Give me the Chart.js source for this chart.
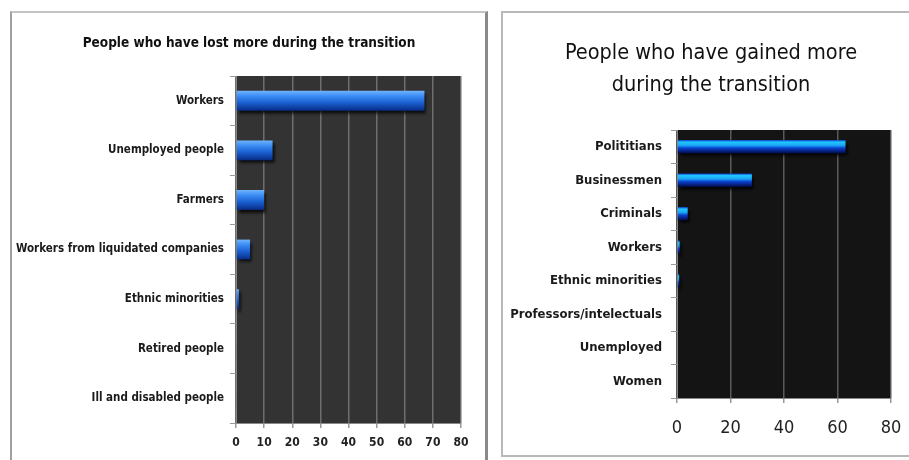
<!DOCTYPE html>
<html lang="en">
<head>
    <meta charset="UTF-8">
    <title>Transition winners and losers</title>
    <script src="https://cdn.jsdelivr.net/npm/chart.js"></script>
    <style>
        body { margin: 0; background: #fff; width: 909px; height: 460px; overflow: hidden; position: relative;
               font-family: 'DejaVu Sans Condensed', 'Liberation Sans', sans-serif; color: #111; }
        .box { position: absolute; background: #fff; box-sizing: border-box; overflow: hidden; }
        #boxLost { left: 10px; top: 11px; width: 478px; height: 460px;
                   border-top: 2px solid #c4c4c4; border-left: 2px solid #a0a0a0; border-right: 3px solid #8a8a8a; }
        #boxGained { left: 501px; top: 11px; width: 420px; height: 446px;
                     border: 2px solid #b8b8b8; }
        canvas { position: absolute; left: 0; top: 0; }
        .title { position: absolute; width: 400px; text-align: center; white-space: nowrap; z-index: 2; }
        #titleLost { left: 49px; top: 34px; font-size: 13.5px; font-weight: bold; line-height: 16px; }
        #titleGained { left: 511px; top: 36px; font-size: 21.5px; line-height: 32px; }
    </style>
</head>
<body>
    <div class="box" id="boxLost"><canvas id="lostChart" width="473" height="449"></canvas></div>
    <div class="box" id="boxGained"><canvas id="gainedChart" width="414" height="443"></canvas></div>
    <div class="title" id="titleLost">People who have lost more during the transition</div>
    <div class="title" id="titleGained">People who have gained more<br>during the transition</div>
    <script>
        // Survey answers, percent of respondents
        const lostLabels = ['Workers', 'Unemployed people', 'Farmers', 'Workers from liquidated companies',
                            'Ethnic minorities', 'Retired people', 'Ill and disabled people'];
        const lostValues = [67, 13, 10, 5, 1, 0.3, 0.3];

        const gainedLabels = ['Polititians', 'Businessmen', 'Criminals', 'Workers', 'Ethnic minorities',
                              'Professors/intelectuals', 'Unemployed', 'Women'];
        const gainedValues = [63, 28, 4, 1, 0.8, 0, 0, 0];

        const lostTicks = [0, 10, 20, 30, 40, 50, 60, 70, 80];
        const gainedTicks = [0, 20, 40, 60, 80];

        const FONT = "'DejaVu Sans Condensed', 'Liberation Sans', sans-serif";

        // fills the plot area and puts a drop shadow under the bars
        const plotStyle = {
            id: 'plotStyle',
            beforeDraw(chart, args, opts) {
                const a = chart.chartArea;
                const ctx = chart.ctx;
                ctx.save();
                ctx.fillStyle = opts.background;
                ctx.fillRect(a.left, a.top, a.right - a.left, a.bottom - a.top);
                ctx.restore();
            },
            beforeDatasetsDraw(chart, args, opts) {
                const ctx = chart.ctx;
                ctx.save();
                ctx.shadowColor = opts.shadow;
                ctx.shadowBlur = 3;
                ctx.shadowOffsetX = 2;
                ctx.shadowOffsetY = 3;
            },
            afterDatasetsDraw(chart) {
                chart.ctx.restore();
            }
        };

        function barFill(stops, barPct) {
            return (c) => {
                const chart = c.chart;
                if (!chart.chartArea || !chart.scales.y) return stops[stops.length - 1][1];
                const y = chart.scales.y;
                const band = (y.bottom - y.top) / chart.data.labels.length;
                const half = band * barPct / 2;
                const mid = y.getPixelForValue(c.dataIndex);
                const g = chart.ctx.createLinearGradient(0, mid - half, 0, mid + half);
                stops.forEach(s => g.addColorStop(s[0], s[1]));
                return g;
            };
        }

        function makeChart(id, labels, values, ticks, o) {
            return new Chart(document.getElementById(id), {
                type: 'bar',
                data: {
                    labels: labels,
                    datasets: [{
                        data: values,
                        backgroundColor: barFill(o.stops, o.barPct),
                        borderWidth: 0,
                        barPercentage: o.barPct,
                        categoryPercentage: 1
                    }]
                },
                options: {
                    indexAxis: 'y',
                    responsive: false,
                    animation: false,
                    layout: { padding: { left: 0, right: o.padRight, top: o.padTop, bottom: 0 } },
                    plugins: {
                        legend: { display: false },
                        tooltip: { enabled: false },
                        plotStyle: { background: o.background, shadow: o.shadow }
                    },
                    scales: {
                        x: {
                            min: 0,
                            max: ticks[ticks.length - 1],
                            afterBuildTicks: (s) => { s.ticks = ticks.map(v => ({ value: v })); },
                            afterFit: (s) => { s.height = o.xHeight; },
                            grid: { color: o.gridColor, tickColor: '#999', tickLength: 5, lineWidth: 1.5 },
                            border: { color: '#888' },
                            ticks: {
                                color: '#222',
                                padding: o.xPad,
                                font: { family: FONT, size: o.xSize, weight: o.xWeight }
                            }
                        },
                        y: {
                            afterFit: (s) => { s.width = o.yWidth; },
                            grid: { drawOnChartArea: false, offset: true, tickColor: '#999', tickLength: 6 },
                            border: { color: '#888' },
                            ticks: {
                                color: '#1a1a1a',
                                padding: o.yPad,
                                autoSkip: false,
                                font: { family: FONT, size: o.ySize, weight: 'bold' }
                            }
                        }
                    }
                },
                plugins: [plotStyle]
            });
        }

        makeChart('lostChart', lostLabels, lostValues, lostTicks, {
            background: '#333333', gridColor: '#6e6e6e', shadow: 'rgba(0,0,0,0.85)',
            stops: [[0, '#6fb4ff'], [0.25, '#3d8ef5'], [0.6, '#1a5fd0'], [1, '#082c86']],
            barPct: 0.4,
            padTop: 63, padRight: 24, yWidth: 224, yPad: 6, ySize: 11.5,
            xHeight: 39, xPad: 8, xSize: 12, xWeight: 'bold'
        });

        makeChart('gainedChart', gainedLabels, gainedValues, gainedTicks, {
            background: '#141414', gridColor: '#5a5a5a', shadow: 'rgba(0,0,0,0.9)',
            stops: [[0, '#0a3cc8'], [0.15, '#22c8ff'], [0.4, '#1aa4f4'], [0.6, '#0a40d0'], [1, '#020a40']],
            barPct: 0.4,
            padTop: 117, padRight: 26, yWidth: 174, yPad: 9, ySize: 13,
            xHeight: 58, xPad: 15, xSize: 18, xWeight: 'normal'
        });
    </script>
</body>
</html>
